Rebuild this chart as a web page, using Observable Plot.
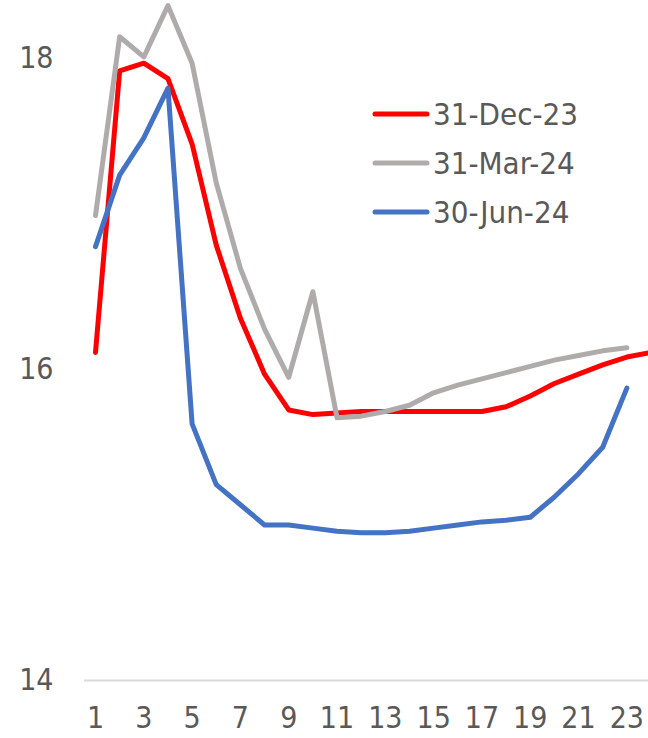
<!DOCTYPE html>
<html>
<head>
<meta charset="utf-8">
<script src="https://cdn.jsdelivr.net/npm/d3@7"></script>
<script src="https://cdn.jsdelivr.net/npm/@observablehq/plot@0.6"></script>
<style>
  html, body { margin: 0; padding: 0; background: #fff; overflow: hidden; }
  #wrap { position: relative; width: 648px; height: 738px; }
  #legend { position: absolute; left: 372px; top: 89px; font-family: "DejaVu Sans Condensed", "DejaVu Sans", sans-serif; font-size: 31px; color: #595959; }
  .item { display: flex; align-items: center; height: 49px; }
  .item svg { margin-right: 3px; }
</style>
</head>
<body>
<div id="wrap"><div id="legend"></div></div>
<script>
// Tenor buckets (x) and the three curve snapshots
const tenors = d3.range(1, 25);
const seriesNames = ["31-Dec-23", "31-Mar-24", "30-Jun-24"];
const seriesColors = ["#ff0000", "#afabab", "#4472c4"];

const dec23 = [16.11, 17.92, 17.97, 17.87, 17.45, 16.80, 16.33, 15.97, 15.74, 15.71,
               15.72, 15.73, 15.73, 15.73, 15.73, 15.73, 15.73, 15.76, 15.83, 15.91,
               15.97, 16.03, 16.08, 16.11];
const mar24 = [16.99, 18.14, 18.01, 18.34, 17.97, 17.20, 16.65, 16.26, 15.95, 16.50,
               15.69, 15.70, 15.73, 15.77, 15.85, 15.90, 15.94, 15.98, 16.02, 16.06,
               16.09, 16.12, 16.14];
const jun24 = [16.79, 17.25, 17.49, 17.81, 15.65, 15.26, 15.13, 15.00, 15.00, 14.98,
               14.96, 14.95, 14.95, 14.96, 14.98, 15.00, 15.02, 15.03, 15.05, 15.18,
               15.33, 15.50, 15.88];

const yTicks = [14, 16, 18];
const xTicks = [1, 3, 5, 7, 9, 11, 13, 15, 17, 19, 21, 23];

const rows = [dec23, mar24, jun24].flatMap((vals, i) =>
  vals.map((v, j) => ({tenor: tenors[j], value: v, series: seriesNames[i]}))
);

const chart = Plot.plot({
  width: 648,
  height: 738,
  marginLeft: 84,
  marginRight: 0,
  marginTop: 0,
  marginBottom: 58,
  style: {fontFamily: "'DejaVu Sans Condensed', 'DejaVu Sans', sans-serif", color: "#595959", background: "#fff"},
  x: {type: "linear", domain: [1, 24], range: [95, 650.5]},
  y: {domain: [14, 18], range: [680, 58]},
  color: {domain: seriesNames, range: seriesColors},
  marks: [
    Plot.ruleY([14], {stroke: "#d9d9d9", strokeWidth: 2}),
    Plot.line(rows, {x: "tenor", y: "value", z: "series", stroke: "series",
      strokeWidth: 5, strokeLinejoin: "round", strokeLinecap: "round"}),
    Plot.axisY({ticks: yTicks, tickSize: 0, tickPadding: 31, fontSize: 30, label: null, tickFormat: d => String(d)}),
    Plot.axisX({ticks: xTicks, tickSize: 0, tickPadding: 26, fontSize: 30, label: null, tickFormat: d => String(d)})
  ]
});
document.getElementById("wrap").prepend(chart);
chart.style.position = "absolute";
chart.style.left = "0";
chart.style.top = "0";

const legend = document.getElementById("legend");
seriesNames.forEach((name, i) => {
  const item = document.createElement("div");
  item.className = "item";
  item.innerHTML = `<svg width="58" height="10"><line x1="3" y1="5" x2="55" y2="5" stroke="${seriesColors[i]}" stroke-width="5" stroke-linecap="round"/></svg><span>${name}</span>`;
  legend.appendChild(item);
});
</script>
</body>
</html>
